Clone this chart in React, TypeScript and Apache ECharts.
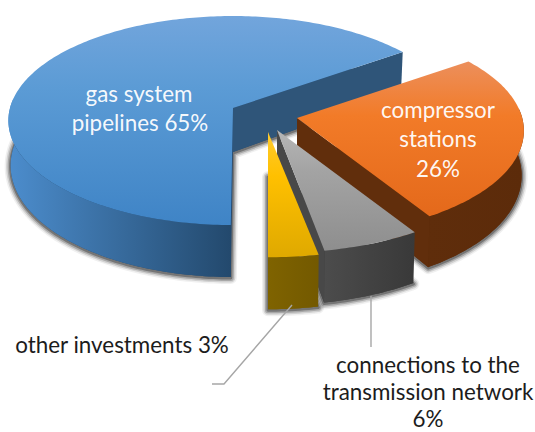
import React, { useEffect, useRef } from "react";
import * as echarts from "echarts";

// ---- data ----
const categories = ["gas system pipelines", "compressor stations", "connections to the transmission network", "other investments"];
const values = [65, 26, 6, 3];

// ---- 3D projection and styling ----
const FIRST_ANGLE = 0.5; // degrees clockwise from the viewer-facing direction
const R = 223;
const RY = 103;
const PERSPECTIVE = 0.12;
const apexes = [[233, 108], [297, 118], [277, 130], [268, 132]];
const scales = [1, 1.01, 1.05, 1.07];
const angleShifts = [0, 0, 0, -0.5];
const topColors = [
  ["#72a5dc", "#5b9bd5", "#3f84c6"],
  ["#ec8f5c", "#f27b28", "#e4691b"],
  ["#b6b6b6", "#a3a3a3", "#8e8e8e"],
  ["#ffcb30", "#ffc000", "#dfa900"],
];
const rimColors = [
  ["#4c8dcd", "#23496d"],
  ["#5f2d0b", "#5c2b0a"],
  ["#4c4c4c", "#393939"],
  ["#7f6300", "#735900"],
];
const wallColors = ["#2f5579", "#612e0c", "#484848", "#7b6000"];
const baseColors = ["#26496c", "#5c2b0a", "#3a3a3a", "#735900"];
const shadowLayers = [
  [12, 0.06],
  [9, 0.12],
  [6, 0.2],
  [3, 0.3],
];

const total = values.reduce((a, b) => a + b, 0);

function project(i: number, deg: number, bottom: boolean): number[] {
  const t = (deg * Math.PI) / 180;
  const X = -Math.sin(t);
  const Y = Math.cos(t);
  const w = 1 - PERSPECTIVE * Y;
  const s = scales[i];
  const [ax, ay] = apexes[i];
  const x = ax + (s * R * X) / w;
  const y = ay + (s * RY * Y) / w;
  if (!bottom) return [x, y];
  return [ax + (x - ax) * 0.99, y + (44 + 8 * Y)];
}

function bottomApex(i: number): number[] {
  return [apexes[i][0], apexes[i][1] + 44];
}

function renderSlice(params: any, api: any) {
  const i = params.dataIndex;
  let start = FIRST_ANGLE;
  for (let k = 0; k < i; k++) start += (values[k] / total) * 360;
  start += angleShifts[i];
  const end = start + (api.value(0) / total) * 360;

  const angles: number[] = [];
  for (let d = start; d < end; d += 1) angles.push(d);
  angles.push(end);

  const topArc = angles.map((d) => project(i, d, false));
  const bottomArc = angles.map((d) => project(i, d, true));
  const apex = apexes[i];
  const bApex = bottomApex(i);

  const nearAngles = angles.filter((d) => Math.cos((d * Math.PI) / 180) > -0.1);
  const rimPts = [
    ...nearAngles.map((d) => project(i, d, false)),
    ...nearAngles.slice().reverse().map((d) => project(i, d, true)),
  ];

  const endTop = project(i, end, false);
  const endBottom = project(i, end, true);
  const basePts = [bApex, ...bottomArc].map((p) => [p[0], p[1] + 1]);

  return {
    type: "group",
    children: [
      ...shadowLayers.map(([width, alpha]) => ({
        type: "polygon",
        shape: { points: basePts },
        style: { fill: "none", stroke: `rgba(0,0,0,${alpha})`, lineWidth: width, lineJoin: "round" },
      })),
      {
        type: "polygon",
        shape: { points: [bApex, ...bottomArc] },
        style: { fill: baseColors[i] },
      },
      {
        type: "polygon",
        shape: { points: rimPts },
        style: {
          fill: new echarts.graphic.LinearGradient(0, 0, 1, 0, [
            { offset: 0, color: rimColors[i][0] },
            { offset: 1, color: rimColors[i][1] },
          ]),
        },
      },
      {
        type: "polygon",
        shape: { points: [apex, endTop, endBottom, bApex] },
        style: { fill: wallColors[i] },
      },
      {
        type: "polygon",
        shape: { points: [apex, ...topArc] },
        style: {
          fill: new echarts.graphic.LinearGradient(0, 0, 0, 1, [
            { offset: 0, color: topColors[i][0] },
            { offset: 0.35, color: topColors[i][1] },
            { offset: 1, color: topColors[i][2] },
          ]),
        },
      },
    ],
  };
}

const FONT = "Lato, 'Open Sans', sans-serif";
const SIZE = 22.4;
function label(text: string, x: number, y: number, fill: string, align = "center") {
  return { type: "text", x, y, silent: true, z: 10, style: { text, x: 0, y: 0, fill, font: `${SIZE}px ${FONT}`, textAlign: align, textVerticalAlign: "middle" } };
}
const WHITE = "rgba(255,255,255,0.96)";
const DARK = "#1c1c1c";

export default function App() {
  const ref = useRef<HTMLDivElement>(null);
  useEffect(() => {
    document.body.style.margin = "0";
    const chart = echarts.init(ref.current!, undefined, { renderer: "svg" });
    chart.setOption({
      animation: false,
      backgroundColor: "#ffffff",
      series: [
        {
          type: "custom",
          coordinateSystem: "none",
          silent: true,
          clip: false,
          renderItem: renderSlice,
          data: values.map((v, i) => ({ name: categories[i], value: [v] })),
        },
      ],
      graphic: [
        { type: "polyline", z: 9, shape: { points: [[292, 305], [224, 384], [212, 384]] }, style: { stroke: "#a6a6a6", lineWidth: 1.4, fill: "none" } },
        { type: "line", z: 9, shape: { x1: 371, y1: 296, x2: 371, y2: 347 }, style: { stroke: "#a6a6a6", lineWidth: 1.4 } },
        label("gas system", 139, 93, WHITE),
        label("pipelines 65%", 140, 122, WHITE),
        label("compressor", 438, 109, WHITE),
        label("stations", 438, 138, WHITE),
        label("26%", 438, 168, WHITE),
        label("other investments 3%", 122, 344, DARK),
        label("connections to the", 428, 364, DARK),
        label("transmission network", 428, 391, DARK),
        label("6%", 428, 418, DARK),
      ],
    });
    return () => chart.dispose();
  }, []);
  return <div ref={ref} style={{ position: "fixed", left: 0, top: 0, width: 535, height: 432 }} />;
}
